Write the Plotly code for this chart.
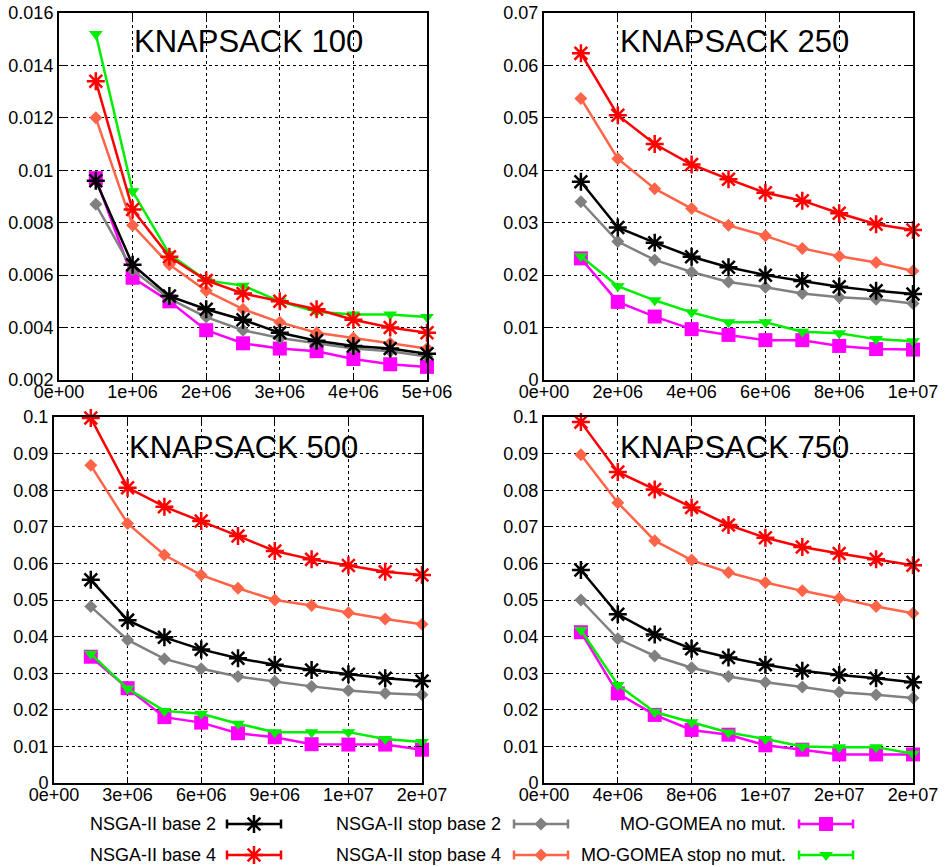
import plotly.graph_objects as go

FONT = "Liberation Sans"

# ---- evaluations (x) for each problem size ----
evals_100 = [5e5, 1e6, 1.5e6, 2e6, 2.5e6, 3e6, 3.5e6, 4e6, 4.5e6, 5e6]
evals_250 = [1e6, 2e6, 3e6, 4e6, 5e6, 6e6, 7e6, 8e6, 9e6, 1e7]
evals_500 = [1.5e6, 3e6, 4.5e6, 6e6, 7.5e6, 9e6, 1.05e7, 1.2e7, 1.35e7, 1.5e7]
evals_750 = [2e6, 4e6, 6e6, 8e6, 1e7, 1.2e7, 1.4e7, 1.6e7, 1.8e7, 2e7]

# ---- KNAPSACK 100 ----
k100_nsga_b2 = [0.0096, 0.0064, 0.0052, 0.0047, 0.0043, 0.0038, 0.0035, 0.0033, 0.0032, 0.0030]
k100_nsga_b4 = [0.0134, 0.0085, 0.0067, 0.0058, 0.0053, 0.0050, 0.0047, 0.0043, 0.0040, 0.0038]
k100_stop_b2 = [0.0087, 0.0062, 0.0051, 0.0044, 0.0039, 0.0036, 0.0034, 0.0032, 0.0031, 0.0029]
k100_stop_b4 = [0.0120, 0.0079, 0.0064, 0.0054, 0.0047, 0.0042, 0.0038, 0.0036, 0.0034, 0.0032]
k100_gomea = [0.0097, 0.0059, 0.0050, 0.0039, 0.0034, 0.0032, 0.0031, 0.0028, 0.0026, 0.0025]
k100_gomea_stop = [0.0152, 0.0092, 0.0068, 0.0058, 0.0056, 0.0050, 0.0046, 0.0045, 0.0045, 0.0044]

# ---- KNAPSACK 250 ----
k250_nsga_b2 = [0.0378, 0.0291, 0.0262, 0.0235, 0.0215, 0.0200, 0.0189, 0.0178, 0.0170, 0.0164]
k250_nsga_b4 = [0.0623, 0.0505, 0.0450, 0.0411, 0.0383, 0.0357, 0.0342, 0.0318, 0.0297, 0.0286]
k250_stop_b2 = [0.0340, 0.0264, 0.0229, 0.0206, 0.0187, 0.0177, 0.0165, 0.0158, 0.0154, 0.0146]
k250_stop_b4 = [0.0537, 0.0422, 0.0365, 0.0327, 0.0295, 0.0275, 0.0251, 0.0236, 0.0224, 0.0208]
k250_gomea = [0.0232, 0.0149, 0.0121, 0.0097, 0.0086, 0.0076, 0.0076, 0.0065, 0.0059, 0.0058]
k250_gomea_stop = [0.0236, 0.0179, 0.0152, 0.0129, 0.0110, 0.0110, 0.0092, 0.0089, 0.0078, 0.0074]

# ---- KNAPSACK 500 ----
k500_nsga_b2 = [0.0555, 0.0445, 0.0398, 0.0365, 0.0341, 0.0323, 0.0309, 0.0297, 0.0286, 0.0279]
k500_nsga_b4 = [0.0997, 0.0807, 0.0755, 0.0716, 0.0675, 0.0634, 0.0611, 0.0594, 0.0577, 0.0568]
k500_stop_b2 = [0.0482, 0.0391, 0.0339, 0.0312, 0.0291, 0.0277, 0.0264, 0.0253, 0.0245, 0.0241]
k500_stop_b4 = [0.0868, 0.0709, 0.0623, 0.0568, 0.0532, 0.0500, 0.0485, 0.0465, 0.0448, 0.0434]
k500_gomea = [0.0345, 0.0259, 0.0180, 0.0165, 0.0136, 0.0125, 0.0106, 0.0105, 0.0105, 0.0091]
k500_gomea_stop = [0.0353, 0.0258, 0.0197, 0.0189, 0.0162, 0.0139, 0.0139, 0.0139, 0.0120, 0.0112]

# ---- KNAPSACK 750 ----
k750_nsga_b2 = [0.0582, 0.0461, 0.0406, 0.0367, 0.0343, 0.0323, 0.0307, 0.0295, 0.0286, 0.0275]
k750_nsga_b4 = [0.0986, 0.0850, 0.0802, 0.0753, 0.0705, 0.0670, 0.0645, 0.0627, 0.0611, 0.0595]
k750_stop_b2 = [0.0500, 0.0394, 0.0347, 0.0315, 0.0291, 0.0275, 0.0262, 0.0248, 0.0241, 0.0232]
k750_stop_b4 = [0.0897, 0.0766, 0.0662, 0.0609, 0.0575, 0.0548, 0.0525, 0.0505, 0.0482, 0.0464]
k750_gomea = [0.0412, 0.0245, 0.0186, 0.0145, 0.0132, 0.0103, 0.0091, 0.0078, 0.0078, 0.0078]
k750_gomea_stop = [0.0418, 0.0268, 0.0194, 0.0166, 0.0138, 0.0120, 0.0100, 0.0098, 0.0098, 0.0080]

# ---- tick labels ----
xt_100 = [0, 1e6, 2e6, 3e6, 4e6, 5e6]
xl_100 = ["0e+00", "1e+06", "2e+06", "3e+06", "4e+06", "5e+06"]
xt_250 = [0, 2e6, 4e6, 6e6, 8e6, 1e7]
xl_250 = ["0e+00", "2e+06", "4e+06", "6e+06", "8e+06", "1e+07"]
xt_500 = [0, 3e6, 6e6, 9e6, 1.2e7, 1.5e7]
xl_500 = ["0e+00", "3e+06", "6e+06", "9e+06", "1e+07", "2e+07"]
xt_750 = [0, 4e6, 8e6, 1.2e7, 1.6e7, 2e7]
xl_750 = ["0e+00", "4e+06", "8e+06", "1e+07", "2e+07", "2e+07"]

yt_100 = [0.002, 0.004, 0.006, 0.008, 0.010, 0.012, 0.014, 0.016]
yl_100 = ["0.002", "0.004", "0.006", "0.008", "0.01", "0.012", "0.014", "0.016"]
yt_250 = [0, 0.01, 0.02, 0.03, 0.04, 0.05, 0.06, 0.07]
yl_250 = ["0", "0.01", "0.02", "0.03", "0.04", "0.05", "0.06", "0.07"]
yt_big = [0, 0.01, 0.02, 0.03, 0.04, 0.05, 0.06, 0.07, 0.08, 0.09, 0.1]
yl_big = ["0", "0.01", "0.02", "0.03", "0.04", "0.05", "0.06", "0.07", "0.08", "0.09", "0.1"]

titles = ["KNAPSACK 100", "KNAPSACK 250", "KNAPSACK 500", "KNAPSACK 750"]
series_names = ["NSGA-II base 2", "NSGA-II base 4", "NSGA-II stop base 2",
                "NSGA-II stop base 4", "MO-GOMEA no mut.", "MO-GOMEA stop no mut."]

# style per series: color, symbol, size
STYLE = {
    "NSGA-II base 2": ("#000000", "asterisk-open", 15),
    "NSGA-II base 4": ("#ff0000", "asterisk-open", 15),
    "NSGA-II stop base 2": ("#808080", "diamond", 10),
    "NSGA-II stop base 4": ("#ff6448", "diamond", 10),
    "MO-GOMEA no mut.": ("#ff00ff", "square", 14),
    "MO-GOMEA stop no mut.": ("#00ee00", "triangle-down", 12),
}

panels = [
    (evals_100, [k100_nsga_b2, k100_nsga_b4, k100_stop_b2, k100_stop_b4, k100_gomea, k100_gomea_stop]),
    (evals_250, [k250_nsga_b2, k250_nsga_b4, k250_stop_b2, k250_stop_b4, k250_gomea, k250_gomea_stop]),
    (evals_500, [k500_nsga_b2, k500_nsga_b4, k500_stop_b2, k500_stop_b4, k500_gomea, k500_gomea_stop]),
    (evals_750, [k750_nsga_b2, k750_nsga_b4, k750_stop_b2, k750_stop_b4, k750_gomea, k750_gomea_stop]),
]

# drawing order (later ones on top)
draw_order = [4, 5, 2, 3, 0, 1]

W, H = 945, 867
fig = go.Figure()


def marker_style(name):
    color, symbol, size = STYLE[name]
    if symbol.endswith("-open"):
        return dict(symbol=symbol, size=size, color=color, line=dict(color=color, width=2.5))
    return dict(symbol=symbol, size=size, color=color, line=dict(width=0))


for p, (xs, ys_list) in enumerate(panels):
    ax = "" if p == 0 else str(p + 1)
    for k in draw_order:
        name = series_names[k]
        color = STYLE[name][0]
        fig.add_trace(go.Scatter(
            x=xs, y=ys_list[k], mode="lines+markers", name=name,
            xaxis="x" + ax, yaxis="y" + ax,
            line=dict(color=color, width=2.5),
            marker=marker_style(name),
            cliponaxis=False, showlegend=False,
        ))

# panel frames in pixels: left, right, top, bottom
frames = [(59, 427, 13, 380), (544, 913, 13, 380), (54, 422, 417, 783), (544, 913, 417, 783)]
xranges = [[0, 5e6], [0, 1e7], [0, 1.5e7], [0, 2e7]]
yranges = [[0.002, 0.016], [0, 0.07], [0, 0.1], [0, 0.1]]
xticks = [(xt_100, xl_100), (xt_250, xl_250), (xt_500, xl_500), (xt_750, xl_750)]
yticks = [(yt_100, yl_100), (yt_250, yl_250), (yt_big, yl_big), (yt_big, yl_big)]

common = dict(
    showline=True, linecolor="black", linewidth=2, mirror="ticks",
    ticks="inside", ticklen=6, tickwidth=1, tickcolor="black",
    showgrid=True, gridcolor="black", gridwidth=1, griddash="3px,3px",
    zeroline=False, tickfont=dict(family=FONT, size=18, color="black"),
    fixedrange=True, automargin=False,
)

layout = dict(
    width=W, height=H, margin=dict(l=0, r=0, t=0, b=0, autoexpand=False),
    paper_bgcolor="white", plot_bgcolor="white", showlegend=False,
    font=dict(family=FONT, color="black"),
)

for p in range(4):
    ax = "" if p == 0 else str(p + 1)
    l, r, t, b = frames[p]
    layout["xaxis" + ax] = dict(
        common, domain=[l / W, r / W], range=xranges[p],
        tickvals=xticks[p][0], ticktext=xticks[p][1],
        anchor="y" + ax, ticklabelstandoff=-6,
    )
    layout["yaxis" + ax] = dict(
        common, domain=[1 - b / H, 1 - t / H], range=yranges[p],
        tickvals=yticks[p][0], ticktext=yticks[p][1],
        anchor="x" + ax,
    )

# legend area axis (pixel units)
LEG_H = 80
layout["xaxis5"] = dict(domain=[0, 1], range=[0, W], visible=False, fixedrange=True, anchor="y5")
layout["yaxis5"] = dict(domain=[0, LEG_H / H], range=[0, LEG_H], visible=False, fixedrange=True, anchor="x5")

fig.update_layout(**layout)

# panel titles (left edge of text, vertical centre)
title_pos = [(133, 41), (619, 41), (128, 447), (619, 447)]
for (tx, ty), txt in zip(title_pos, titles):
    fig.add_annotation(
        x=tx / W, y=1 - ty / H, xref="paper", yref="paper",
        text=txt, showarrow=False, xanchor="left", yanchor="middle",
        font=dict(family=FONT, size=31, color="black"), borderpad=0,
    )

# legend: text right-aligned, then a line sample with end caps and marker
legend_cols = [(217, 254), (502, 541), (787, 826)]
legend_rows = [824, 855]
for k, name in enumerate(series_names):
    col, row = k // 2, k % 2
    text_right, sample_x = legend_cols[col]
    y_px = legend_rows[row]
    color = STYLE[name][0]
    fig.add_annotation(
        x=text_right / W, y=1 - y_px / H, xref="paper", yref="paper",
        text=name, showarrow=False, xanchor="right", yanchor="middle",
        font=dict(family=FONT, size=18, color="black"), borderpad=0,
    )
    fig.add_trace(go.Scatter(
        x=[sample_x], y=[H - y_px], xaxis="x5", yaxis="y5",
        mode="markers", marker=marker_style(name),
        error_x=dict(type="data", array=[27], symmetric=True, color=color,
                     thickness=2.5, width=4.5),
        cliponaxis=False, showlegend=False, hoverinfo="skip",
    ))

fig.write_html("out.html")
